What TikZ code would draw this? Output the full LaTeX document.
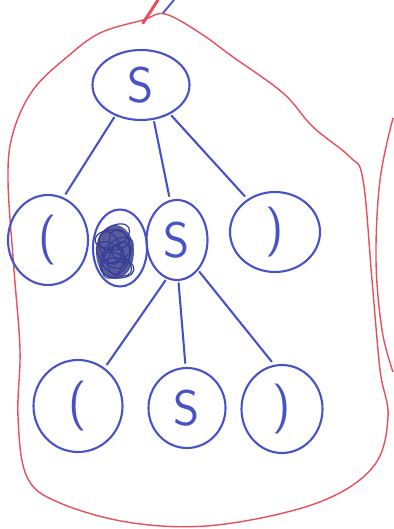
\documentclass[tikz,border=0pt]{standalone}
\usepackage{tikz}
\usetikzlibrary{positioning, shapes.geometric, calc}
\definecolor{penblue}{RGB}{72,82,200}
\definecolor{penred}{RGB}{232,78,92}
\begin{document}
\begin{tikzpicture}[x=1pt, y=-1pt,
    knot/.style={draw=penblue, line width=2.1pt, ellipse, inner sep=0pt, text=penblue, font=\fontsize{50}{50}\sffamily},
    branch/.style={draw=penblue, line width=2.1pt, line cap=round, shorten <=2pt, shorten >=4pt}]
    \useasboundingbox (0,0) rectangle (393,529);
    % red loop round the tree
    \draw [penred, line width=1.4pt] plot[smooth cycle, tension=0.6] coordinates {(143,20) (100,33) (67,57) (33,90) (13,133) (8,180) (14,270) (20,350) (18,417) (27,477) (60,503) (133,523) (217,525) (317,503) (373,467) (388,417) (380,370) (372,280) (363,180) (350,157) (313,127) (283,93) (233,57) (200,33) (165,14)};
    \draw [penred, line width=1.4pt] plot[smooth, tension=0.6] coordinates {(393,118) (380,180) (376,260) (382,330) (393,372)};
    \draw [penred, line width=3pt, line cap=round] (143,23) -- (158,0);
    \draw [penblue, line width=1.8pt] (163,13) -- (174,0);
    % nodes
    \node [knot, minimum width=97, minimum height=70] (root) at (141,85) {S};
    \node [knot, minimum width=80, minimum height=90] (lp) at (48,240) {(};
    \node [knot, minimum width=54, minimum height=77] (scrib) at (120,248) {};
    \node [knot, minimum width=61, minimum height=80] (mid) at (177,240) {S};
    \node [knot, minimum width=90, minimum height=80] (rp) at (275,232) {)};
    \node [knot, minimum width=89, minimum height=92] (blp) at (78,406) {(};
    \node [knot, minimum width=77, minimum height=80] (bs) at (187,408) {S};
    \node [knot, minimum width=81, minimum height=88] (brp) at (282,409) {)};
    % scribble over the crossed-out node
    \fill [penblue!65!black, opacity=0.8] (115,252) ellipse (19 and 27);
    \foreach \r/\cx/\cy in {0/112/240, 35/118/250, 70/113/262, 105/120/246, 140/111/255, 175/117/268, 210/114/236, 250/119/258, 290/110/248, 330/116/264} { \draw [penblue!75!black, line width=1.2pt, rotate around={\r:(\cx,\cy)}] (\cx,\cy) ellipse (17 and 10); }
    % branches
    \draw [branch] (root.230) -- (lp.70);
    \draw [branch] (root.290) -- (mid.100);
    \draw [branch] (root.315) -- (rp.130);
    \draw [branch] (mid.255) -- (blp.55);
    \draw [branch] (mid.272) -- (bs.92);
    \draw [branch] (mid.305) -- (brp.100);
\end{tikzpicture}
\end{document}
